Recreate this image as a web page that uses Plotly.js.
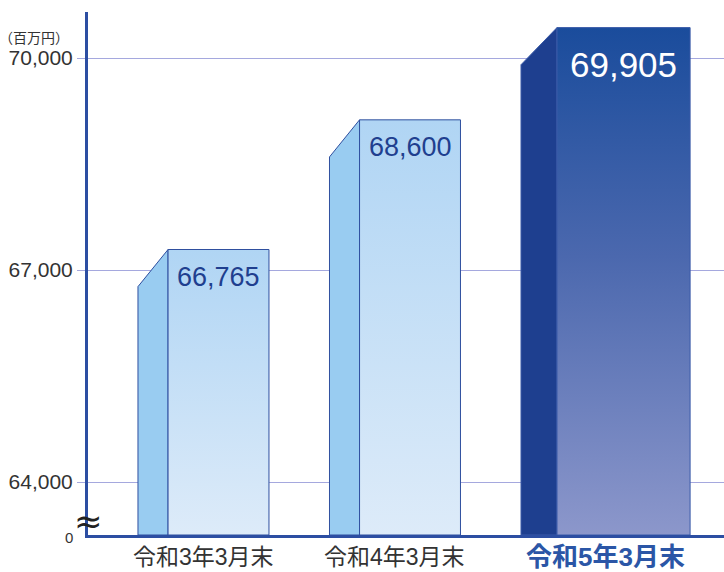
<!DOCTYPE html>
<html>
<head>
<meta charset="utf-8">
<script src="https://cdn.plot.ly/plotly-3.0.1.min.js"></script>
<style>html,body{margin:0;padding:0;background:#fff;}#chart{width:724px;height:572px;}</style>
</head>
<body>
<div id="chart"></div>
<script>
// ---- data ----
const categories = ['令和3年3月末', '令和4年3月末', '令和5年3月末'];
const values = [66765, 68600, 69905];
const highlight = [false, false, true];
const yTickVals = [64000, 67000, 70000];
const yTickText = ['64,000', '67,000', '70,000'];
const unitLabel = '（百万円）';
const zeroLabel = '0';

// ---- style / geometry ----
const FONT = '"Liberation Sans", "Noto Sans CJK JP", sans-serif';
const JFONT = '"Liberation Sans", "Noto Sans CJK JP", sans-serif';
const yRange = [63250, 70651];
const xRange = [-0.603, 2.718];
const depthY = 525;          // 3D depth in y units
const geo = {
  normal: {side: 0.157, front: 0.527},
  hi: {side: 0.188, front: 0.695},
  leftOffset: 0.342
};
const colors = {
  normal: {side: '#99CCF1', top: '#B0D5F4', bottom: '#DDEBF9', line: '#2F4F9F', text: '#1F3F8F'},
  hi: {side: '#1E3F8F', top: '#1A4C9C', mid: '#4B68AE', bottom: '#8C97CB', line: '#3A5AA8', text: '#FFFFFF'}
};

const traces = [];
const annotations = [];
values.forEach((v, i) => {
  const g = highlight[i] ? geo.hi : geo.normal;
  const c = highlight[i] ? colors.hi : colors.normal;
  const xl = i - geo.leftOffset;
  const xf = xl + g.side;
  const xr = xf + g.front;
  const yb = yRange[0];
  const yt = v + depthY;
  traces.push({
    type: 'scatter', mode: 'lines', hoverinfo: 'skip', showlegend: false,
    x: [xl, xl, xf, xf, xl], y: [yb, v, yt, yb, yb],
    fill: 'toself', fillcolor: c.side,
    line: {color: c.line, width: 1}
  });
  const cs = highlight[i]
    ? [[0, c.bottom], [0.55, c.mid], [1, c.top]]
    : [[0, c.bottom], [1, c.top]];
  traces.push({
    type: 'scatter', mode: 'lines', hoverinfo: 'skip', showlegend: false,
    x: [xf, xf, xr, xr, xf], y: [yb, yt, yt, yb, yb],
    fill: 'toself',
    fillgradient: {type: 'vertical', colorscale: cs},
    line: {color: c.line, width: 1}
  });
  annotations.push({
    x: (xf + xr) / 2, y: yt, xref: 'x', yref: 'y',
    xanchor: 'center', yanchor: 'top', yshift: highlight[i] ? -15 : -10,
    text: v.toLocaleString('en-US'), showarrow: false,
    font: {family: FONT, size: highlight[i] ? 35 : 27, color: c.text}
  });
  annotations.push({
    x: (xl + xr) / 2, y: 0, xref: 'x', yref: 'paper',
    xanchor: 'center', yanchor: 'middle', yshift: -22,
    text: categories[i], showarrow: false,
    font: {family: JFONT, size: highlight[i] ? 26 : 23,
           color: highlight[i] ? '#2B56A6' : '#333333',
           weight: highlight[i] ? 600 : 400}
  });
});

annotations.push({
  x: 0, y: 1, xref: 'paper', yref: 'paper', xanchor: 'right', yanchor: 'middle',
  xshift: -17, yshift: -25, text: unitLabel, showarrow: false,
  font: {family: '"Noto Sans CJK JP", sans-serif', size: 14, color: '#333333'}
});
annotations.push({
  x: 0, y: 0, xref: 'paper', yref: 'paper', xanchor: 'right', yanchor: 'middle',
  xshift: -13, yshift: -2, text: zeroLabel, showarrow: false,
  font: {family: FONT, size: 15, color: '#333333'}
});
annotations.push({
  x: 0, y: 0, xref: 'paper', yref: 'paper', xanchor: 'center', yanchor: 'middle',
  xshift: 0, yshift: 14, text: '≈', showarrow: false,
  font: {family: '"DejaVu Sans", sans-serif', size: 34, color: '#222222'}
});

const layout = {
  width: 724, height: 572,
  margin: {l: 88, r: 0, t: 12, b: 37, pad: 0},
  paper_bgcolor: '#ffffff', plot_bgcolor: '#ffffff',
  showlegend: false,
  xaxis: {
    range: xRange, showgrid: false, zeroline: false, showticklabels: false,
    showline: true, linecolor: '#2C4EA2', linewidth: 3, ticks: '', fixedrange: true
  },
  yaxis: {
    range: yRange, tickvals: yTickVals, ticktext: yTickText,
    showgrid: true, gridcolor: '#A5A8DE', gridwidth: 1, zeroline: false,
    showline: true, linecolor: '#2C4EA2', linewidth: 3,
    ticks: 'outside', ticklen: 8, tickcolor: '#A5A8DE', tickwidth: 1,
    tickfont: {family: FONT, size: 21, color: '#333333'}, fixedrange: true
  },
  annotations: annotations
};

Plotly.newPlot('chart', traces, layout, {displayModeBar: false, staticPlot: true});
</script>
</body>
</html>
